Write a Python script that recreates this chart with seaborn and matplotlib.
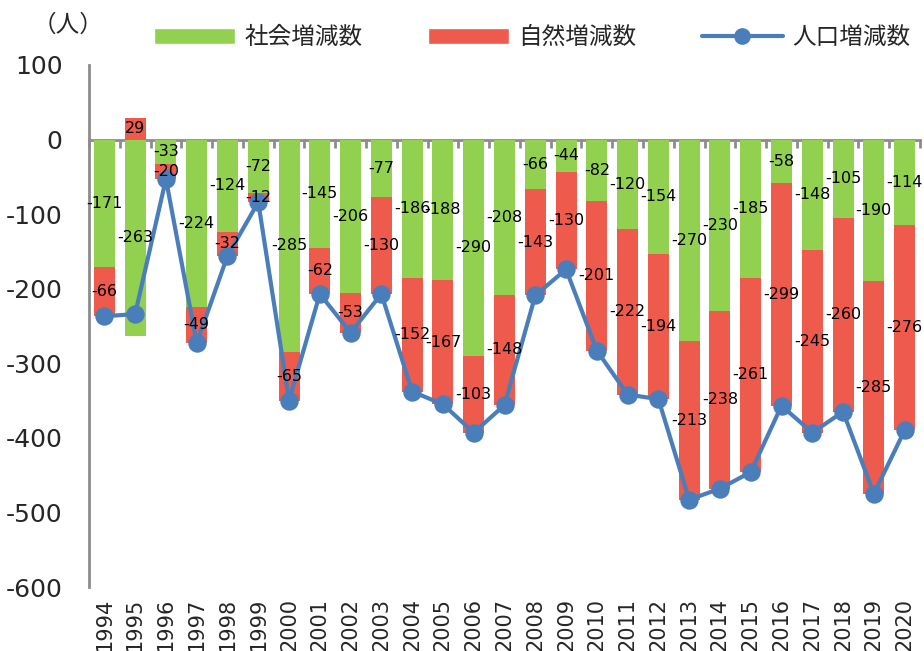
import numpy as np
import pandas as pd
import matplotlib
matplotlib.use('Agg')
import matplotlib.pyplot as plt
import seaborn as sns
from matplotlib.patches import Patch
from matplotlib.lines import Line2D

# values
years = list(range(1994, 2021))
social = [-171, -263, -33, -224, -124, -72, -285, -145, -206, -77, -186, -188, -290,
          -208, -66, -44, -82, -120, -154, -270, -230, -185, -58, -148, -105, -190, -114]
natural = [-66, 29, -20, -49, -32, -12, -65, -62, -53, -130, -152, -167, -103,
           -148, -143, -130, -201, -222, -194, -213, -238, -261, -299, -245, -260, -285, -276]
total = [-237, -234, -53, -273, -156, -84, -350, -207, -259, -207, -338, -355, -393,
         -356, -209, -174, -283, -342, -348, -483, -468, -446, -357, -393, -365, -475, -390]
legend_labels = ['社会増減数', '自然増減数', '人口増減数']

GREEN = '#92D050'
RED = '#EE5A4B'
BLUE = '#4A7EBB'
GRAY = '#8C8C8C'


def main():
    sns.set_style('white')
    plt.rcParams['font.family'] = ['DejaVu Sans', 'Noto Sans CJK JP']
    plt.rcParams['axes.unicode_minus'] = False

    df = pd.DataFrame({'year': [str(y) for y in years], 'social': social,
                       'natural': natural, 'total': total})
    soc = df['social'].to_numpy()
    nat = df['natural'].to_numpy()
    # natural stacks under social when both have same sign, else starts at 0
    nat_bottom = np.where(np.sign(nat) == np.sign(soc), soc, 0)

    fig = plt.figure(figsize=(9.24, 6.51), dpi=100)
    ax = fig.add_axes([0.0963, 0.0983, 0.8994, 0.8019])

    sns.barplot(data=df, x='year', y='social', color=GREEN, width=0.68, saturation=1,
                errorbar=None, linewidth=0, ax=ax)
    sns.barplot(data=df, x='year', y='natural', color=RED, width=0.68, saturation=1,
                errorbar=None, linewidth=0, bottom=nat_bottom, ax=ax)
    for c in ax.containers:
        ax.bar_label(c, label_type='center', fontsize=11.5, color='black')

    sns.pointplot(data=df, x='year', y='total', color=BLUE, markers='o',
                  markersize=11, linewidth=3, errorbar=None, ax=ax)

    ax.set_xlim(-0.5, len(years) - 0.5)
    ax.set_ylim(-600, 100)
    ax.set_yticks(np.arange(-600, 101, 100))
    ax.set_xlabel('')
    ax.set_ylabel('')
    for s in ['top', 'right', 'bottom']:
        ax.spines[s].set_visible(False)
    ax.spines['left'].set_color(GRAY)
    ax.spines['left'].set_linewidth(2)
    ax.tick_params(axis='y', length=7, width=2, color=GRAY, labelsize=18, pad=12)
    ax.tick_params(axis='x', length=0, labelrotation=90, labelsize=15, pad=8)

    # zero line with category boundary ticks
    sec = ax.secondary_xaxis(6 / 7)
    sec.set_xticks(np.arange(-0.5, len(years), 1.0))
    sec.set_xticklabels([])
    sec.tick_params(direction='in', length=6, width=2, color=GRAY)
    for s in sec.spines.values():
        s.set_color(GRAY)
        s.set_linewidth(2)

    handles = [Patch(facecolor=GREEN, label=legend_labels[0]),
               Patch(facecolor=RED, label=legend_labels[1]),
               Line2D([], [], color=BLUE, lw=3, marker='o', ms=11, label=legend_labels[2])]
    fig.legend(handles=handles, loc='center', bbox_to_anchor=(0.576, 0.943), ncol=3,
               frameon=False, fontsize=17, handlelength=3.4, handleheight=0.65,
               handletextpad=0.4, columnspacing=2.8)
    fig.text(0.074, 0.962, '（人）', ha='center', va='center', fontsize=17)

    fig.savefig('out.png', dpi=100)


if __name__ == '__main__':
    main()
